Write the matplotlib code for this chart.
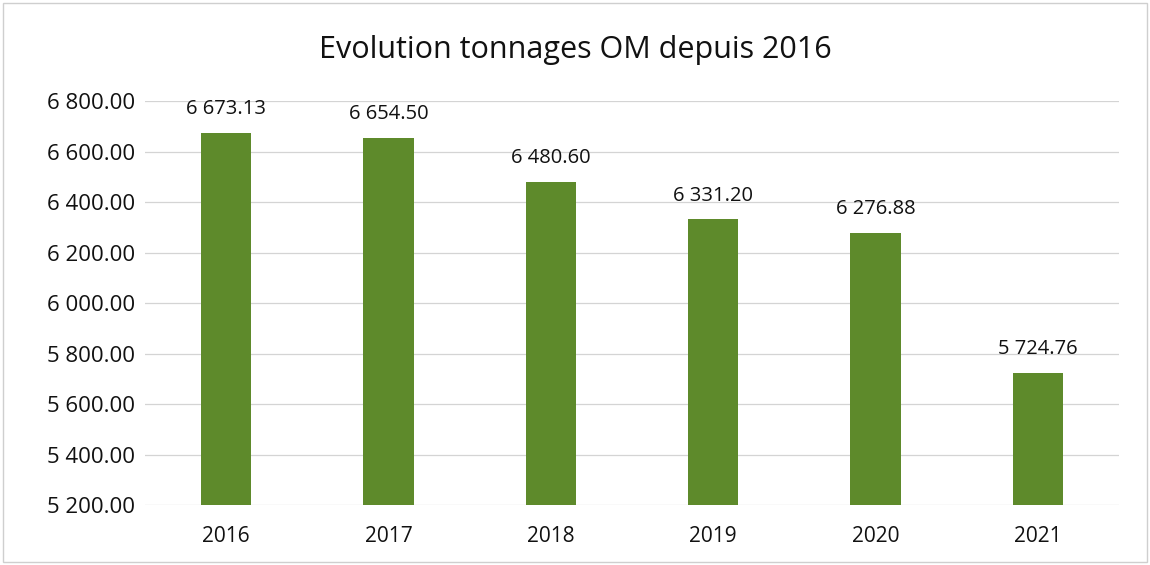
import matplotlib
matplotlib.use("Agg")
import matplotlib.pyplot as plt
from matplotlib.ticker import FuncFormatter

years = ["2016", "2017", "2018", "2019", "2020", "2021"]
tonnages = [6673.13, 6654.50, 6480.60, 6331.20, 6276.88, 5724.76]
title = "Evolution tonnages OM depuis 2016"


def fr_num(v, pos=None):
    return f"{v:,.2f}".replace(",", " ")


plt.rcParams["font.family"] = ["Open Sans", "DejaVu Sans"]

fig = plt.figure(figsize=(11.5, 5.65), dpi=100)
fig.patch.set_facecolor("white")
ax = fig.add_axes([0.126, 0.106, 0.847, 0.715])

x = list(range(len(years)))
ax.bar(x, tonnages, width=0.31, color="#5e8a2b", edgecolor="none", zorder=3)
for xi, v in zip(x, tonnages):
    ax.annotate(fr_num(v), (xi, v), xytext=(0, 10), textcoords="offset points",
                ha="center", va="bottom", fontsize=14.5, color="#111111")

ax.set_ylim(5200, 6800)
ax.set_yticks(range(5200, 6801, 200))
ax.yaxis.set_major_formatter(FuncFormatter(fr_num))
ax.set_xlim(-0.5, len(years) - 0.5)
ax.set_xticks(x)
ax.set_xticklabels(years)
ax.tick_params(axis="both", length=0, colors="#111111")
ax.tick_params(axis="x", pad=15, labelsize=15)
ax.tick_params(axis="y", pad=7, labelsize=16)
ax.grid(axis="y", color="#d4d4d4", linewidth=0.9, zorder=0)
for s in ax.spines.values():
    s.set_visible(False)

fig.text(0.5, 0.912, title, ha="center", va="center", fontsize=22, color="#111111")
fig.add_artist(plt.Rectangle((0.003, 0.005), 0.994, 0.99, transform=fig.transFigure,
                             fill=False, edgecolor="#cfcfcf", linewidth=1))

fig.savefig("out.png", dpi=100)
